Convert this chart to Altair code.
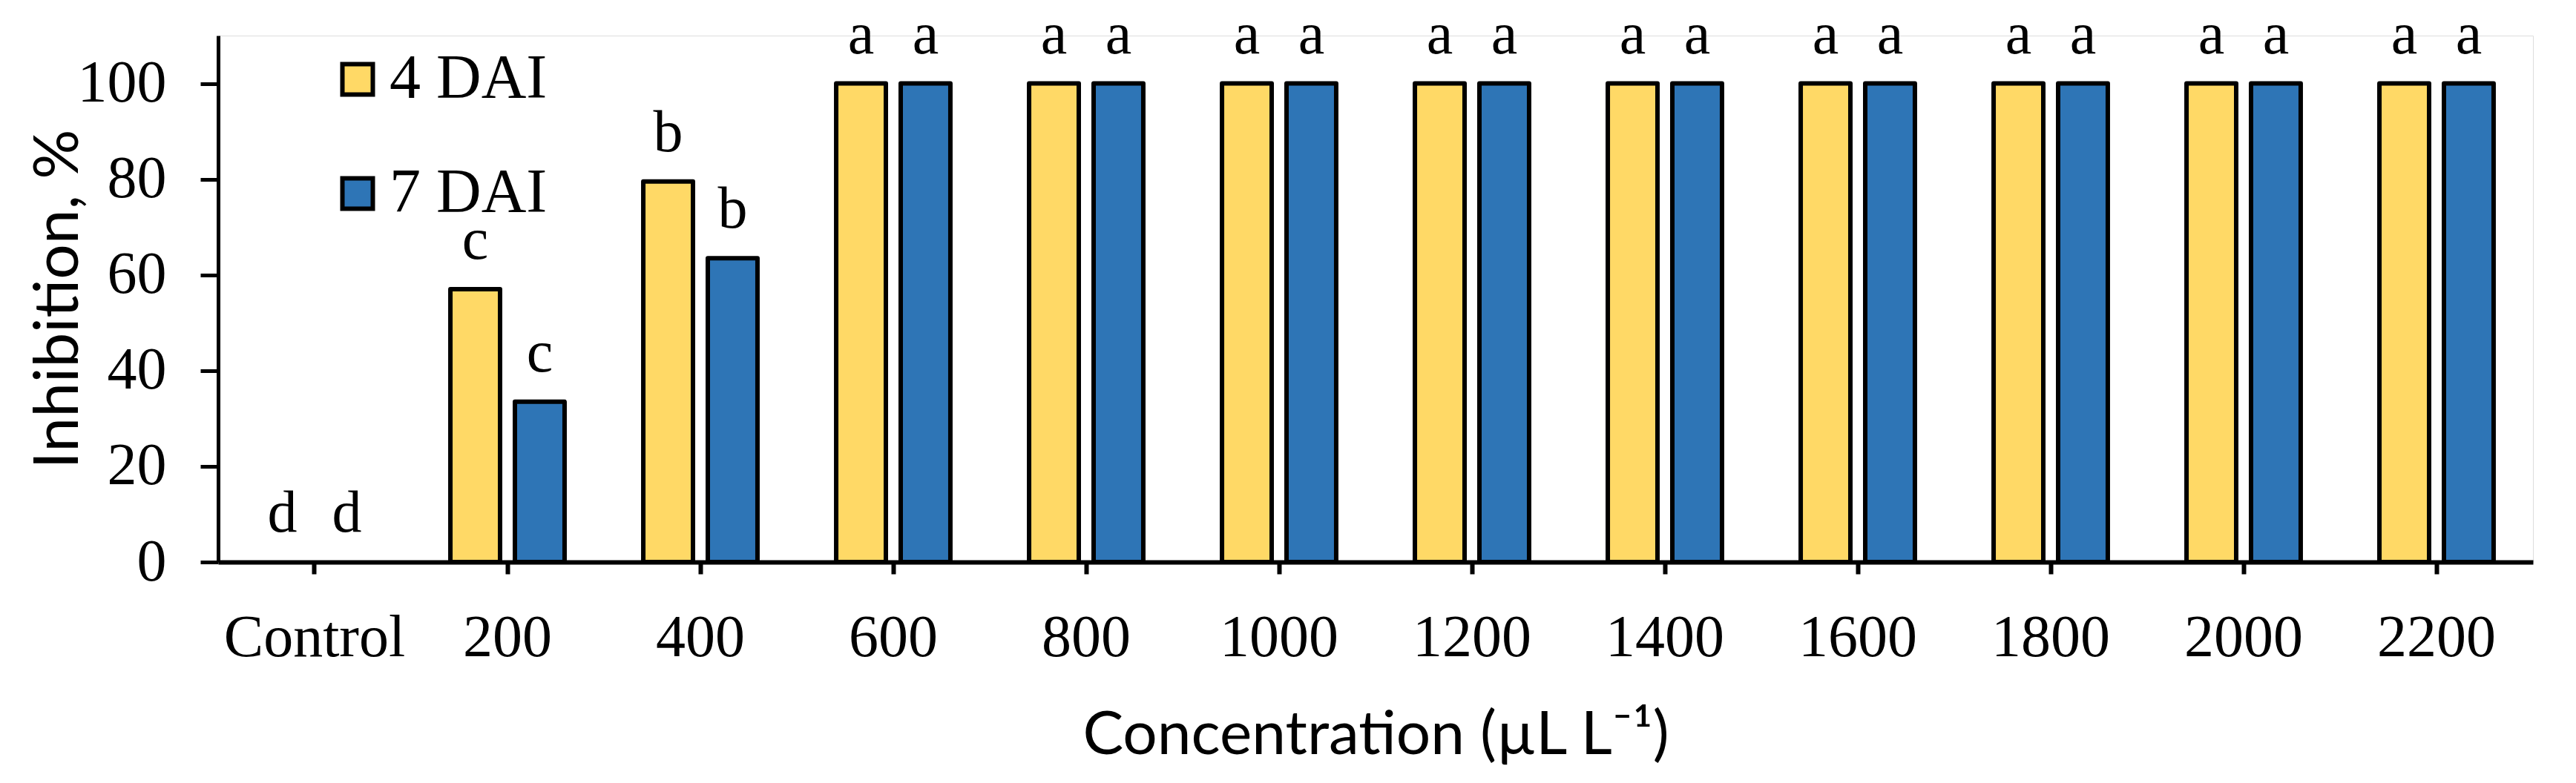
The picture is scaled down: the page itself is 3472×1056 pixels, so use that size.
import altair as alt
import pandas as pd

categories = ["Control", "200", "400", "600", "800", "1000", "1200",
              "1400", "1600", "1800", "2000", "2200"]
series_names = ["4 DAI", "7 DAI"]
dai4_values = [0, 57, 79.5, 100, 100, 100, 100, 100, 100, 100, 100, 100]
dai7_values = [0, 33.5, 63.5, 100, 100, 100, 100, 100, 100, 100, 100, 100]
dai4_letters = ["d", "c", "b", "a", "a", "a", "a", "a", "a", "a", "a", "a"]
dai7_letters = ["d", "c", "b", "a", "a", "a", "a", "a", "a", "a", "a", "a"]
y_ticks = [0, 20, 40, 60, 80, 100]
colors = ["#FFD966", "#2E75B6"]

rows = []
for i, c in enumerate(categories):
    rows.append({"conc": c, "series": series_names[0], "value": dai4_values[i], "letter": dai4_letters[i]})
    rows.append({"conc": c, "series": series_names[1], "value": dai7_values[i], "letter": dai7_letters[i]})
df = pd.DataFrame(rows)

W = 3120
H = 710

x_enc = alt.X(
    "conc:N", sort=categories,
    scale=alt.Scale(paddingInner=0.408, paddingOuter=0.204),
    axis=alt.Axis(
        title="Concentration (µL L⁻¹)",
        titleFont="Lato", titleFontSize=82, titleFontWeight="normal", titleColor="black",
        titleX=W / 2, titleY=258, titleBaseline="alphabetic", titleAlign="center",
        labelFont="Liberation Serif", labelFontSize=80, labelColor="black",
        labelAngle=0, labelPadding=47, labelLimit=0,
        domainColor="black", domainWidth=6,
        tickColor="black", tickWidth=6, tickSize=16,
        grid=False,
    ),
)
xoff_enc = alt.XOffset("series:N", sort=series_names, scale=alt.Scale(paddingInner=0.23))
y_enc = alt.Y(
    "value:Q",
    scale=alt.Scale(domain=[0, 110], nice=False),
    axis=alt.Axis(
        title="Inhibition, %", values=y_ticks,
        titleFont="Lato", titleFontSize=84, titleFontWeight="normal", titleColor="black",
        titleX=-190, titleY=H / 2, titleAngle=270, titleBaseline="alphabetic", titleAlign="center",
        labelFont="Liberation Serif", labelFontSize=80, labelColor="black", labelPadding=46,
        labelLimit=0,
        domainColor="black", domainWidth=5,
        tickColor="black", tickWidth=5, tickSize=24,
        grid=False,
    ),
)

bars = alt.Chart(df).transform_filter("datum.value > 0").mark_bar(
    stroke="black", strokeWidth=6, strokeJoin="round"
).encode(
    x=x_enc,
    xOffset=xoff_enc,
    y=y_enc,
    color=alt.Color(
        "series:N", sort=series_names,
        scale=alt.Scale(domain=series_names, range=colors),
        legend=alt.Legend(
            title=None, orient="none", legendX=146, legendY=17, padding=0,
            rowPadding=70, labelFont="Liberation Serif", labelFontSize=84,
            labelColor="black", labelOffset=1, labelLimit=0, symbolType="square",
            symbolSize=1681, symbolStrokeWidth=6, symbolStrokeColor="black",
            symbolOpacity=1,
        ),
    ),
)

letters = alt.Chart(df).mark_text(
    font="Liberation Serif", fontSize=80, color="black",
    baseline="alphabetic", align="center", dy=-41,
).encode(
    x=alt.X("conc:N", sort=categories),
    xOffset=alt.XOffset("series:N", sort=series_names),
    y=alt.Y("value:Q"),
    text="letter:N",
)

chart = alt.layer(bars, letters).properties(
    width=W, height=H,
    autosize=alt.AutoSizeParams(type="none"),
    padding={"left": 286, "top": 40, "right": 50, "bottom": 290},
).configure_view(stroke=None).configure(background="white")

chart.save("out.html", embed_options={"renderer": "svg", "actions": False})
